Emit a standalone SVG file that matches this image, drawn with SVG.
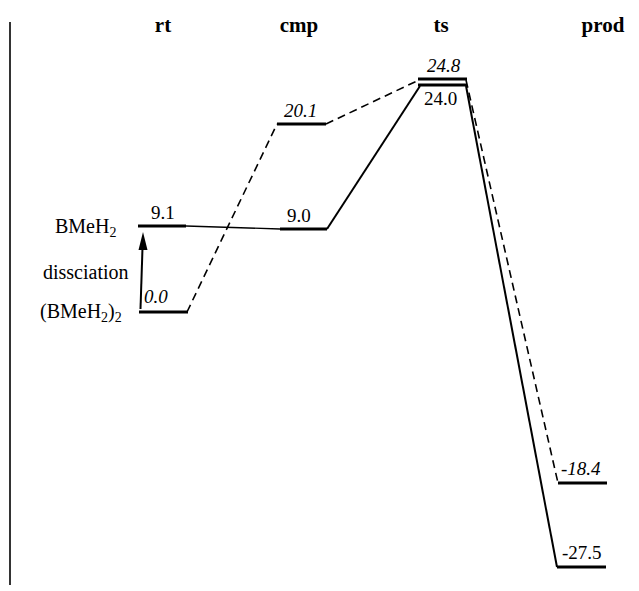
<svg xmlns="http://www.w3.org/2000/svg" width="639" height="591" viewBox="0 0 639 591">
  <style>
    .hdr { font-family: "Liberation Serif", "Times New Roman", serif; font-weight: bold; font-size: 21px; fill: #000; text-anchor: middle; }
    .val { font-family: "Liberation Serif", "Times New Roman", serif; font-size: 19px; fill: #000; }
    .it { font-style: italic; }
    .lbl { font-family: "Liberation Serif", "Times New Roman", serif; font-size: 20px; fill: #000; }
    .sub { font-size: 14px; }
    .lvl { stroke: #000; stroke-width: 3.2; fill: none; }
    .solid { stroke: #000; stroke-width: 2; fill: none; }
    .thin { stroke: #000; stroke-width: 1.3; fill: none; }
    .dash { stroke: #000; stroke-width: 1.6; fill: none; stroke-dasharray: 8 5; }
  </style>
  <rect width="639" height="591" fill="#fff"/>

  <!-- energy axis -->
  <line x1="10" y1="22" x2="10" y2="585" stroke="#000" stroke-width="1.6"/>

  <!-- column headers -->
  <g id="headers">
    <text class="hdr" x="163" y="32">rt</text>
    <text class="hdr" x="299" y="32">cmp</text>
    <text class="hdr" x="441" y="32">ts</text>
    <text class="hdr" x="603" y="32">prod</text>
  </g>

  <!-- connectors -->
  <g id="connectors">
    <line class="thin" x1="186" y1="226" x2="280" y2="229"/>
    <line class="solid" x1="327" y1="229" x2="420" y2="86"/>
    <line class="solid" x1="466" y1="86" x2="557" y2="567"/>
    <line class="dash" x1="187" y1="312" x2="277" y2="124"/>
    <line class="dash" x1="326" y1="124" x2="419" y2="80"/>
    <line class="dash" x1="466" y1="80" x2="558" y2="483"/>
    <!-- dissociation arrow -->
    <line x1="140.5" y1="309" x2="142.5" y2="248" stroke="#000" stroke-width="2"/>
    <path d="M143,232 L147.5,250 L138.5,250 Z" fill="#000"/>
  </g>

  <!-- side labels -->
  <g id="labels">
    <text class="lbl" x="55" y="233">BMeH<tspan class="sub" dy="4">2</tspan></text>
    <text class="lbl" x="43" y="279">dissciation</text>
    <text class="lbl" x="40" y="318">(BMeH<tspan class="sub" dy="4">2</tspan><tspan dy="-4">)</tspan><tspan class="sub" dy="4">2</tspan></text>
  </g>

  <g id="rt-dimer">
    <line class="lvl" x1="139" y1="312" x2="188" y2="312"/>
    <text class="val it" x="144" y="303">0.0</text>
  </g>
  <g id="rt-monomer">
    <line class="lvl" x1="138" y1="226" x2="186" y2="226"/>
    <text class="val" x="151" y="219">9.1</text>
  </g>
  <g id="cmp-dashed">
    <line class="lvl" x1="277" y1="124" x2="326" y2="124"/>
    <text class="val it" x="284" y="117">20.1</text>
  </g>
  <g id="cmp-solid">
    <line class="lvl" x1="280" y1="229" x2="327" y2="229"/>
    <text class="val" x="287" y="222">9.0</text>
  </g>
  <g id="ts-dashed">
    <line class="lvl" x1="418" y1="79" x2="467" y2="79"/>
    <text class="val it" x="427" y="72">24.8</text>
  </g>
  <g id="ts-solid">
    <line class="lvl" x1="418" y1="85" x2="467" y2="85"/>
    <text class="val" x="424" y="105">24.0</text>
  </g>
  <g id="prod-dashed">
    <line class="lvl" x1="558" y1="483" x2="607" y2="483"/>
    <text class="val it" x="561" y="475">-18.4</text>
  </g>
  <g id="prod-solid">
    <line class="lvl" x1="557" y1="567" x2="606" y2="567"/>
    <text class="val" x="562" y="559">-27.5</text>
  </g>
</svg>
